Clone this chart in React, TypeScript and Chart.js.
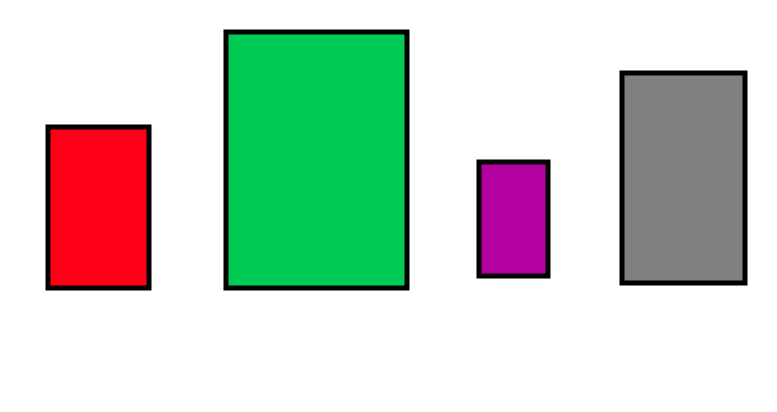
import { useEffect, useRef } from 'react';
import { Chart, registerables } from 'chart.js';

Chart.register(...registerables);

// four rectangles, each spanning [xStart, xEnd] horizontally and [yLow, yHigh] vertically
const categories = ['A', 'B', 'C', 'D'];
const xStart = [48, 226, 479, 622];
const xEnd = [149, 407, 548, 745];
const yLow = [124, 124, 136, 129];
const yHigh = [285, 380, 250, 339];
const fillColors = ['#ff0019', '#00cc55', '#b300a0', '#808080'];

const X_MAX = 777;
const Y_MAX = 412;

export default function App() {
  const chartRef = useRef<HTMLCanvasElement>(null);
  const chartInstance = useRef<Chart | null>(null);

  useEffect(() => {
    if (!chartRef.current) return;
    if (chartInstance.current) chartInstance.current.destroy();
    const ctx = chartRef.current.getContext('2d');
    if (!ctx) return;

    const datasets: any[] = [];
    categories.forEach((cat, i) => {
      // bottom edge (fill target)
      datasets.push({
        label: cat + ' base',
        data: [
          { x: xStart[i], y: yLow[i] },
          { x: xEnd[i], y: yLow[i] },
        ],
        showLine: true,
        borderWidth: 0,
        borderColor: 'transparent',
        pointRadius: 0,
        fill: false,
        order: 1,
      });
      // top edge, filled down to the bottom edge
      datasets.push({
        label: cat,
        data: [
          { x: xStart[i], y: yHigh[i] },
          { x: xEnd[i], y: yHigh[i] },
        ],
        showLine: true,
        borderWidth: 0,
        borderColor: 'transparent',
        backgroundColor: fillColors[i],
        pointRadius: 0,
        fill: '-1',
        order: 1,
      });
      // outline
      datasets.push({
        label: cat + ' outline',
        data: [
          { x: xStart[i], y: yLow[i] },
          { x: xStart[i], y: yHigh[i] },
          { x: xEnd[i], y: yHigh[i] },
          { x: xEnd[i], y: yLow[i] },
          { x: xStart[i], y: yLow[i] },
        ],
        showLine: true,
        borderColor: '#000000',
        borderWidth: 5,
        borderJoinStyle: 'miter',
        borderCapStyle: 'square',
        pointRadius: 0,
        fill: false,
        order: 0,
      });
    });

    chartInstance.current = new Chart(ctx, {
      type: 'scatter',
      data: { datasets },
      options: {
        animation: false,
        responsive: true,
        maintainAspectRatio: false,
        layout: { padding: 0 },
        elements: { line: { tension: 0 } },
        plugins: {
          legend: { display: false },
          tooltip: { enabled: false },
        },
        scales: {
          x: { type: 'linear', min: 0, max: X_MAX, display: false },
          y: { type: 'linear', min: 0, max: Y_MAX, display: false },
        },
      },
    });

    return () => {
      if (chartInstance.current) {
        chartInstance.current.destroy();
        chartInstance.current = null;
      }
    };
  }, []);

  return (
    <div style={{ position: 'absolute', left: 0, top: 0, width: 777, height: 412, background: '#ffffff' }}>
      <canvas ref={chartRef}></canvas>
    </div>
  );
}
